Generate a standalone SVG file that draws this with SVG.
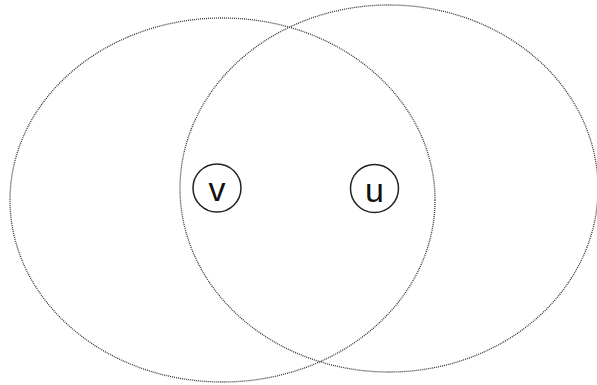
<svg xmlns="http://www.w3.org/2000/svg" width="597" height="385" viewBox="0 0 597 385">
<style>
.big{fill:none;stroke:#333;stroke-width:1.3;stroke-dasharray:1 1}
.node{fill:#fff;stroke:#222;stroke-width:1.5}
.lbl{font-family:"Liberation Sans",Arial,sans-serif;font-size:34px;fill:#111;text-anchor:middle}
</style>
<rect width="597" height="385" fill="#fff"/>
<g id="sets">
<ellipse id="setLeft" class="big" cx="222.5" cy="200" rx="212.5" ry="182"/>
<ellipse id="setRight" class="big" cx="389" cy="188.5" rx="209" ry="183.5"/>
</g>
<g id="connectors"></g>
<g id="node-v">
<circle class="node" cx="217" cy="188" r="24"/>
<text class="lbl" x="217" y="201">v</text>
</g>
<g id="node-u">
<circle class="node" cx="374.5" cy="188.5" r="24"/>
<text class="lbl" x="374.5" y="201.5">u</text>
</g>
</svg>
